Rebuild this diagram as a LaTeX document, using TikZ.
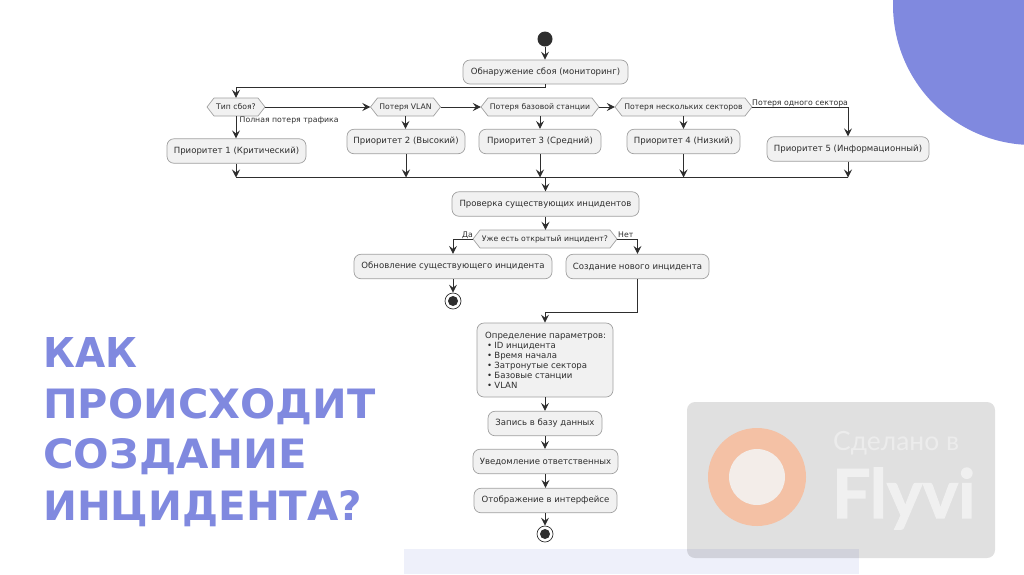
\documentclass[tikz,border=0pt]{standalone}
\usepackage{fontspec}
\usepackage{graphicx}
\setmainfont{DejaVu Sans}
\newfontfamily\flyfont[FakeBold=1.6]{Lato Bold}
\newfontfamily\madefont{Lato}
\usetikzlibrary{arrows.meta,calc}
\definecolor{peri}{HTML}{8089DF}
\definecolor{inkc}{HTML}{2E2E2E}
\definecolor{boxfill}{HTML}{F1F1F1}
\definecolor{boxline}{HTML}{A0A0A0}
\tikzset{
  x=1pt,y=-1pt,
  flowbox/.style={draw=boxline,fill=boxfill,line width=.7pt,rounded corners=7pt,inner sep=0pt,font=\fontsize{8.55}{10}\selectfont,text=inkc},
  hexline/.style={draw=boxline,fill=boxfill,line width=.7pt},
  flowhex/.style={rectangle,inner sep=0pt,minimum height=18pt,font=\fontsize{7.7}{10}\selectfont,text=inkc},
  flowlabel/.style={inner sep=0pt,font=\fontsize{7.75}{9}\selectfont,text=inkc},
  paramtext/.style={anchor=base west,inner sep=0pt,font=\fontsize{8.55}{10}\selectfont,text=inkc},
  conn/.style={draw=inkc,line width=.9pt,-{Stealth[length=8pt,width=8pt,inset=3pt]}},
  plainconn/.style={draw=inkc,line width=.9pt},
  startdot/.style={circle,fill=inkc,draw=none,minimum size=15pt,inner sep=0pt},
  enddot/.style={circle,fill=white,draw=inkc,line width=.7pt,minimum size=16pt,inner sep=0pt},
  enddotin/.style={circle,fill=inkc,draw=none,minimum size=10pt,inner sep=0pt},
  titleline/.style={anchor=base west,inner sep=0pt,text=peri,font=\bfseries},
}
\newcommand{\boxat}[5]{\node[flowbox,minimum width=#3pt,minimum height=#4pt] (#1) at (#2) {#5};}
\newcommand{\hexat}[4]{%
  \draw[hexline] (#2) ++(-#3/2,0) -- ++(7,-9) -- ++(#3-14,0) -- ++(7,9) -- ++(-7,9) -- ++(-#3+14,0) -- cycle;
  \node[flowhex,minimum width=#3pt] (#1) at (#2) {#4};}
\newcommand{\bul}{\makebox[7.2pt][l]{\textbullet}}
\begin{document}
\begin{tikzpicture}
\useasboundingbox (0,0) rectangle (1024,574);
\begin{scope}
\clip (0,0) rectangle (1024,574);
\fill[peri] (1033,5) circle[radius=140];
\fill[fill={rgb,255:red,238;green,240;blue,250}] (404,549) rectangle (859,574);
\fill[black,opacity=.12,rounded corners=8pt] (687,402) rectangle (995,558);
\fill[fill={rgb,255:red,244;green,193;blue,165}] (757,477) circle[radius=49];
\fill[fill={rgb,255:red,243;green,237;blue,233}] (757,477) circle[radius=28];
\end{scope}
\node[anchor=base west,inner sep=0pt,text={rgb,255:red,236;green,236;blue,236}] (made) at (833,450) {\madefont\fontsize{26.4}{30}\selectfont Сделано в};
\node[anchor=base west,inner sep=0pt,text={rgb,255:red,240;green,240;blue,240}] (flyvi) at (832,518) {\resizebox{143pt}{!}{\flyfont Flyvi}};
% title
\node[titleline] (t1) at (43,367) {\resizebox{94pt}{30pt}{КАК}};
\node[titleline] (t2) at (43,418) {\resizebox{332pt}{30pt}{ПРОИСХОДИТ}};
\node[titleline] (t3) at (43,468) {\resizebox{264pt}{30pt}{СОЗДАНИЕ}};
\node[titleline] (t4) at (43,520) {\resizebox{319pt}{30pt}{ИНЦИДЕНТА?}};
% flow nodes
\node[startdot] (start) at (545,39) {};
\boxat{detect}{545.5,72}{165}{24}{Обнаружение сбоя (мониторинг)}
\hexat{d1}{236,107}{58}{Тип сбоя?}
\hexat{d2}{405.5,107}{70}{Потеря VLAN}
\hexat{d3}{540,107}{118}{Потеря базовой станции}
\hexat{d4}{683.5,107}{137}{Потеря нескольких секторов}
\boxat{p1}{236.5,151}{139}{24.5}{Приоритет 1 (Критический)}
\boxat{p2}{406,141.5}{118}{24.5}{Приоритет 2 (Высокий)}
\boxat{p3}{540,141.5}{122}{24.5}{Приоритет 3 (Средний)}
\boxat{p4}{683.5,141.5}{113}{24.5}{Приоритет 4 (Низкий)}
\boxat{p5}{848,149}{162}{24.5}{Приоритет 5 (Информационный)}
\boxat{check}{545.5,204}{187}{24.5}{Проверка существующих инцидентов}
\hexat{d5}{545,239}{144}{Уже есть открытый инцидент?}
\boxat{update}{453,266.5}{198}{24.5}{Обновление существующего инцидента}
\boxat{create}{637.5,266.5}{143}{24.5}{Создание нового инцидента}
\node[enddot] (end1) at (453,301) {};
\node[enddotin] (end1in) at (453,301) {};
\boxat{params}{545,360}{136}{74}{}
\node[paramtext] (ptitle) at (485,338.5) {Определение параметров:};
\node[paramtext] (pa) at (487,348.5) {\bul ID инцидента};
\node[paramtext] (pb) at (487,358.5) {\bul Время начала};
\node[paramtext] (pc) at (487,368.5) {\bul Затронутые сектора};
\node[paramtext] (pd) at (487,378.5) {\bul Базовые станции};
\node[paramtext] (pe) at (487,388.5) {\bul VLAN};
\boxat{store}{545,423.5}{114}{24.5}{Запись в базу данных}
\boxat{notify}{545.5,461.5}{145}{24.5}{Уведомление ответственных}
\boxat{show}{545.5,500.5}{143}{24.5}{Отображение в интерфейсе}
\node[enddot] (end2) at (545,534) {};
\node[enddotin] (end2in) at (545,534) {};
% helper coordinates
\coordinate (m1) at (236,177.5);
\coordinate (m5) at (848,177.5);
\coordinate (mc) at (545.5,177.5);
\coordinate (br) at (545.5,87.5);
\coordinate (br1) at (236,87.5);
\coordinate (cr) at (637.5,312);
\coordinate (cl) at (545,312);
% connectors
\draw[conn] (start) -- (start.south |- detect.north);
\draw[plainconn] (detect.south -| br) -- (br) -- (br1);
\draw[conn] (br1) -- (d1.north);
\draw[conn] (d1.east) -- (d2.west);
\draw[conn] (d2.east) -- (d3.west);
\draw[conn] (d3.east) -- (d4.west);
\draw[conn] (d1.south) -- (d1.south |- p1.north);
\draw[conn] (d2.south) -- (d2.south |- p2.north);
\draw[conn] (d3.south) -- (d3.south |- p3.north);
\draw[conn] (d4.south) -- (d4.south |- p4.north);
\draw[conn] (d4.east) -| (p5.north);
\draw[plainconn] (m1) -- (m5);
\draw[conn] (p1.south -| m1) -- (m1);
\draw[conn] (p2.south) -- (p2.south |- m1);
\draw[conn] (p3.south) -- (p3.south |- m1);
\draw[conn] (p4.south) -- (p4.south |- m1);
\draw[conn] (p5.south) -- (m5);
\draw[conn] (mc) -- (check.north -| mc);
\draw[conn] (check.south) -- (d5.north -| check.south);
\draw[conn] (d5.west) -| (update.north);
\draw[conn] (d5.east) -| (create.north);
\draw[conn] (update.south) -- (end1.north);
\draw[plainconn] (create.south) -- (cr) -- (cl);
\draw[conn] (cl) -- (params.north);
\draw[conn] (params.south) -- (store.north);
\draw[conn] (store.south) -- (store.south |- notify.north);
\draw[conn] (notify.south) -- (notify.south |- show.north);
\draw[conn] (show.south -| end2) -- (end2.north);
% labels
\node[flowlabel,anchor=base west] (l1) at (239.5,122.5) {Полная потеря трафика};
\node[flowlabel,anchor=base west] (l2) at (752,105.5) {Потеря одного сектора};
\node[flowlabel,anchor=base east] (l3) at (473,237) {Да};
\node[flowlabel,anchor=base west] (l4) at (618,237) {Нет};
\end{tikzpicture}
\end{document}
